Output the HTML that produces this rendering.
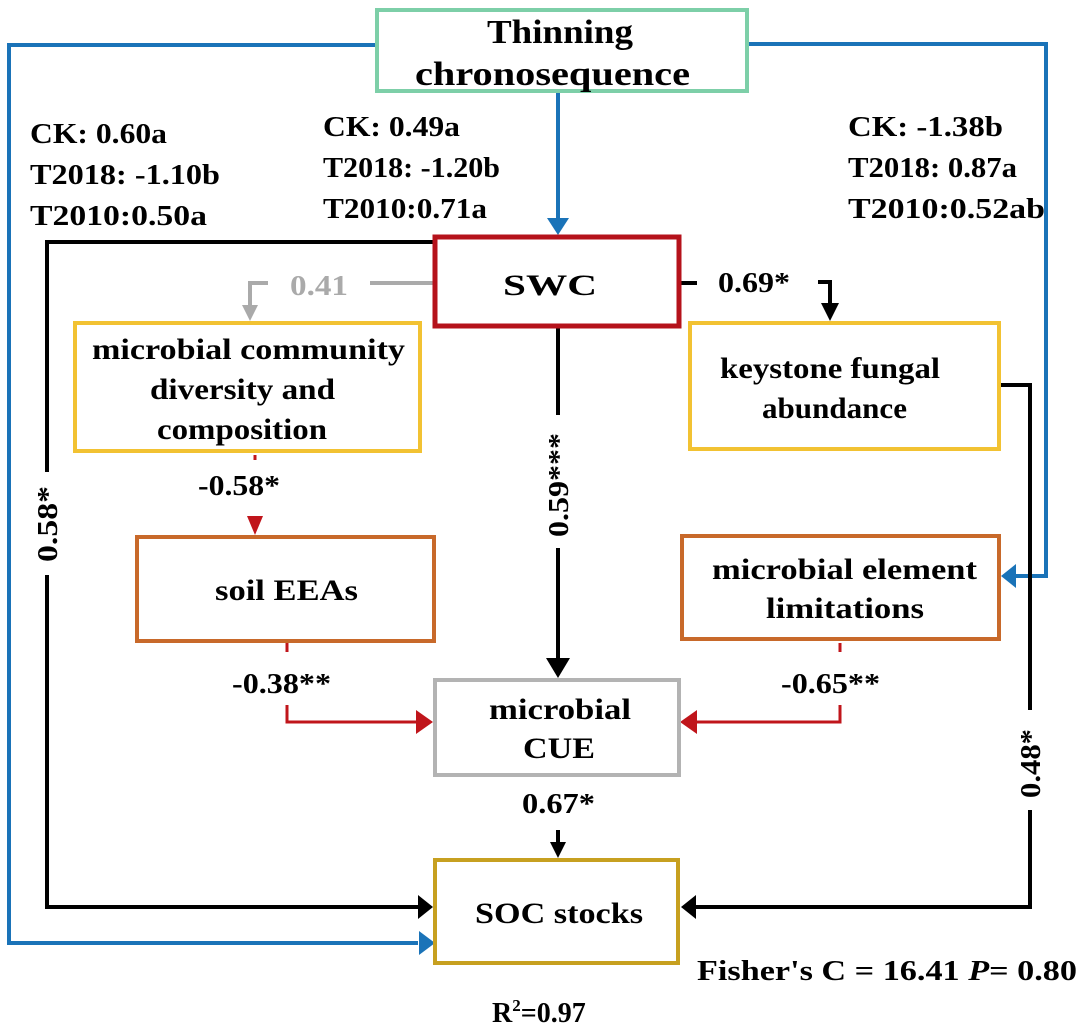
<!DOCTYPE html>
<html><head><meta charset="utf-8"><style>
html,body{margin:0;padding:0;background:#fff}
svg{display:block}
text{font-family:"Liberation Serif",serif;font-weight:bold;fill:#000}
</style></head><body>
<svg width="1080" height="1029" viewBox="0 0 1080 1029" xmlns="http://www.w3.org/2000/svg">
<!-- blue lines -->
<g stroke="#1a73b8" stroke-width="4" fill="none">
<polyline points="377,45 9,45 9,943 418,943"/>
<polyline points="748,44 1046,44 1046,576 1015,576"/>
<line x1="558" y1="92" x2="558" y2="220"/>
</g>
<path d="M419,931 L435,943 L419,955z" fill="#1a73b8"/>
<path d="M1016,564 L1001,576 L1016,588z" fill="#1a73b8"/>
<path d="M547,218 L558,235 L569,218z" fill="#1a73b8"/>
<!-- black lines -->
<g stroke="#000" stroke-width="4" fill="none">
<polyline points="433,242 47,242 47,472"/>
<polyline points="47,575 47,907 418,907"/>
<line x1="558" y1="327" x2="558" y2="415"/>
<line x1="558" y1="548" x2="558" y2="660"/>
<line x1="681" y1="283" x2="697" y2="283"/>
<polyline points="818,282 830,282 830,305"/>
<polyline points="1000,385 1030,385 1030,710"/>
<polyline points="1030,810 1030,907 696,907"/>
<line x1="558" y1="830" x2="558" y2="845"/>
</g>
<path d="M418,895 L433,907 L418,919z"/>
<path d="M696,895 L681,907 L696,919z"/>
<path d="M546,658 L558,678 L570,658z"/>
<path d="M821,303 L830,321 L839,303z"/>
<path d="M550,842 L558,858 L566,842z"/>
<!-- gray -->
<g stroke="#aaa" stroke-width="4" fill="none">
<line x1="370" y1="283" x2="433" y2="283"/>
<polyline points="268,283 250,283 250,306"/>
</g>
<path d="M242,305 L250,321 L258,305z" fill="#aaa"/>
<!-- red -->
<g stroke="#c0151b" stroke-width="3" fill="none">
<line x1="255" y1="455" x2="255" y2="460"/>
<line x1="287" y1="643" x2="287" y2="652"/>
<polyline points="287,705 287,722 418,722"/>
<line x1="840" y1="643" x2="840" y2="652"/>
<polyline points="840,705 840,722 696,722"/>
</g>
<path d="M247,516 L255,535 L263,516z" fill="#c0151b"/>
<path d="M416,710 L433,722 L416,734z" fill="#c0151b"/>
<path d="M697,710 L680,722 L697,734z" fill="#c0151b"/>
<!-- boxes -->
<g fill="#fff" stroke-width="4">
<rect x="377" y="10" width="370" height="81" stroke="#7dcfa8"/>
<rect x="435" y="237" width="244" height="89" stroke="#b5121b" stroke-width="5"/>
<rect x="75" y="323" width="345" height="128" stroke="#f2c232"/>
<rect x="690" y="323" width="309" height="126" stroke="#f2c232"/>
<rect x="137" y="537" width="297" height="104" stroke="#c8692a"/>
<rect x="682" y="536" width="317" height="103" stroke="#c8692a"/>
<rect x="435" y="680" width="244" height="95" stroke="#b3b3b3"/>
<rect x="435" y="860" width="243" height="103" stroke="#c7a020"/>
</g>
<!-- box text -->
<g font-size="34" lengthAdjust="spacingAndGlyphs">
<text x="487" y="43" textLength="146" lengthAdjust="spacingAndGlyphs">Thinning</text>
<text x="415" y="85" textLength="275" lengthAdjust="spacingAndGlyphs">chronosequence</text>
</g>
<g font-size="30">
<text x="503" y="295" textLength="94" lengthAdjust="spacingAndGlyphs">SWC</text>
<text x="92" y="359" textLength="313" lengthAdjust="spacingAndGlyphs">microbial community</text>
<text x="150" y="399" textLength="185" lengthAdjust="spacingAndGlyphs">diversity and</text>
<text x="157" y="439" textLength="170" lengthAdjust="spacingAndGlyphs">composition</text>
<text x="720" y="378" textLength="220" lengthAdjust="spacingAndGlyphs">keystone fungal</text>
<text x="762" y="418" textLength="145" lengthAdjust="spacingAndGlyphs">abundance</text>
<text x="215" y="600" textLength="143" lengthAdjust="spacingAndGlyphs">soil EEAs</text>
<text x="712" y="579" textLength="265" lengthAdjust="spacingAndGlyphs">microbial element</text>
<text x="766" y="618" textLength="158" lengthAdjust="spacingAndGlyphs">limitations</text>
<text x="489" y="719" textLength="142" lengthAdjust="spacingAndGlyphs">microbial</text>
<text x="523" y="758" textLength="72" lengthAdjust="spacingAndGlyphs">CUE</text>
<text x="475" y="923" textLength="168" lengthAdjust="spacingAndGlyphs">SOC stocks</text>
</g>
<!-- value labels -->
<g font-size="29">
<text x="30" y="143" textLength="137" lengthAdjust="spacingAndGlyphs">CK: 0.60a</text>
<text x="30" y="184" textLength="190" lengthAdjust="spacingAndGlyphs">T2018: -1.10b</text>
<text x="30" y="225" textLength="177" lengthAdjust="spacingAndGlyphs">T2010:0.50a</text>
<text x="323" y="136" textLength="137" lengthAdjust="spacingAndGlyphs">CK: 0.49a</text>
<text x="323" y="177" textLength="177" lengthAdjust="spacingAndGlyphs">T2018: -1.20b</text>
<text x="323" y="218" textLength="164" lengthAdjust="spacingAndGlyphs">T2010:0.71a</text>
<text x="848" y="136" textLength="155" lengthAdjust="spacingAndGlyphs">CK: -1.38b</text>
<text x="848" y="177" textLength="169" lengthAdjust="spacingAndGlyphs">T2018: 0.87a</text>
<text x="848" y="218" textLength="197" lengthAdjust="spacingAndGlyphs">T2010:0.52ab</text>
</g>
<g font-size="28">
<text x="290" y="295" style="fill:#aaa" textLength="58" lengthAdjust="spacingAndGlyphs">0.41</text>
<text x="718" y="292" textLength="72" lengthAdjust="spacingAndGlyphs">0.69*</text>
<text x="198" y="495" textLength="82" lengthAdjust="spacingAndGlyphs">-0.58*</text>
<text x="232" y="693" textLength="99" lengthAdjust="spacingAndGlyphs">-0.38**</text>
<text x="781" y="693" textLength="99" lengthAdjust="spacingAndGlyphs">-0.65**</text>
<text x="522" y="813" textLength="73" lengthAdjust="spacingAndGlyphs">0.67*</text>
<text transform="translate(57,562) rotate(-90)" textLength="76" lengthAdjust="spacingAndGlyphs">0.58*</text>
<text transform="translate(568,537) rotate(-90)" textLength="104" lengthAdjust="spacingAndGlyphs">0.59***</text>
<text transform="translate(1040,798) rotate(-90)" textLength="69" lengthAdjust="spacingAndGlyphs">0.48*</text>
</g>
<text x="697" y="980" font-size="28" textLength="380" lengthAdjust="spacingAndGlyphs">Fisher's C = 16.41 <tspan font-style="italic">P</tspan>= 0.80</text>
<text x="492" y="1022" font-size="28">R<tspan font-size="17" dy="-11">2</tspan><tspan dy="11">=0.97</tspan></text>
</svg>
</body></html>
